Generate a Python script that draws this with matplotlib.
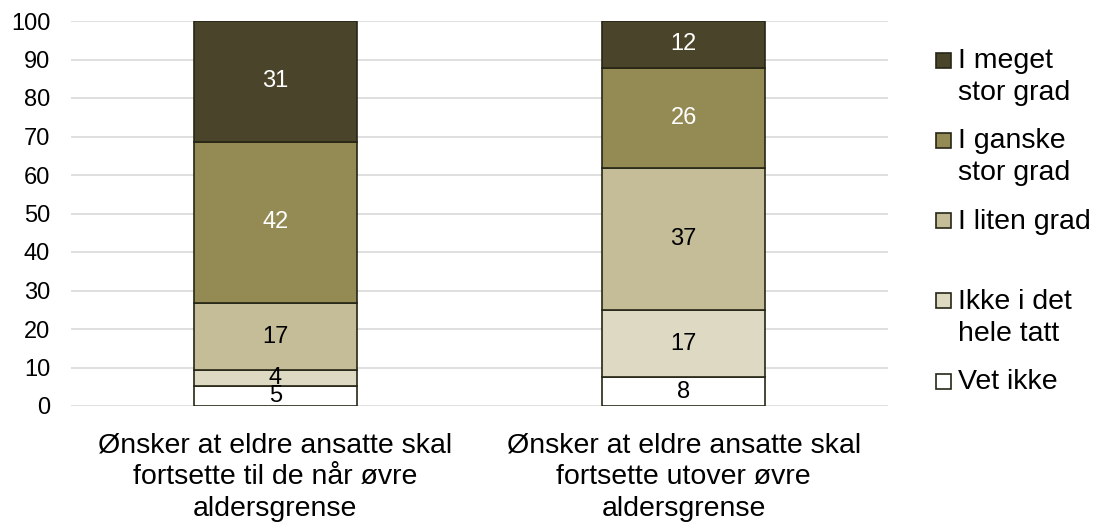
import matplotlib.pyplot as plt
from matplotlib.patches import Rectangle
import numpy as np

plt.rcParams['font.family'] = ['Liberation Sans', 'DejaVu Sans']

# categories (x axis) and stacked series, bottom to top
categories = ["Ønsker at eldre ansatte skal\nfortsette til de når øvre\naldersgrense",
              "Ønsker at eldre ansatte skal\nfortsette utover øvre\naldersgrense"]
series_names = ["Vet ikke", "Ikke i det\nhele tatt", "I liten grad",
                "I ganske\nstor grad", "I meget\nstor grad"]
vet_ikke = [5.2, 7.5]
ikke_i_det_hele_tatt = [4.1, 17.4]
i_liten_grad = [17.4, 37.0]
i_ganske_stor_grad = [42.0, 26.0]
i_meget_stor_grad = [31.3, 12.1]
y_ticks = [0, 10, 20, 30, 40, 50, 60, 70, 80, 90, 100]

series = [vet_ikke, ikke_i_det_hele_tatt, i_liten_grad, i_ganske_stor_grad, i_meget_stor_grad]
colors = ["#FFFFFF", "#DDD9C3", "#C4BD97", "#948A54", "#4A452A"]
text_colors = ["black", "black", "black", "white", "white"]
edge = "#262616"

W, H = 1098, 522
fig = plt.figure(figsize=(W / 100, H / 100), dpi=100)
ax = fig.add_axes([71 / W, 1 - 406 / H, (888 - 71) / W, (406 - 21) / H])

x = np.arange(len(categories))
bottom = np.zeros(len(categories))
for vals, col, tcol in zip(series, colors, text_colors):
    vals = np.array(vals)
    ax.bar(x, vals, 0.4, bottom=bottom, color=col, edgecolor=edge,
           linewidth=1.2, zorder=3)
    for xi, b, v in zip(x, bottom, vals):
        ax.text(xi, b + v / 2, f"{v:.0f}", ha="center", va="center",
                fontsize=17, color=tcol, zorder=4)
    bottom += vals

ax.set_xlim(-0.5, 1.5)
ax.set_ylim(0, 100)
ax.set_yticks(y_ticks)
ax.yaxis.grid(True, color="#D9D9D9", linewidth=1.2, zorder=0)
ax.set_axisbelow(True)
for s in ax.spines.values():
    s.set_visible(False)
ax.tick_params(axis="both", length=0)
ax.tick_params(axis="y", labelsize=17, pad=15)
ax.set_xticks(x)
ax.set_xticklabels(categories, fontsize=20.5, linespacing=1.3)
ax.tick_params(axis="x", pad=19)

# legend: Excel style, top entry first, square beside the first text line
step = 80.2
for i, (name, col) in enumerate(zip(series_names[::-1], colors[::-1])):
    yc = 60.2 + i * step
    fig.patches.append(Rectangle((936 / W, 1 - (yc + 7.5) / H), 15 / W, 15 / H,
                                 transform=fig.transFigure, facecolor=col,
                                 edgecolor=edge, linewidth=1.2))
    fig.text(958 / W, 1 - (yc - 12) / H, name, ha="left", va="top",
             fontsize=20.5, linespacing=1.3)

fig.savefig("out.png", dpi=100)
